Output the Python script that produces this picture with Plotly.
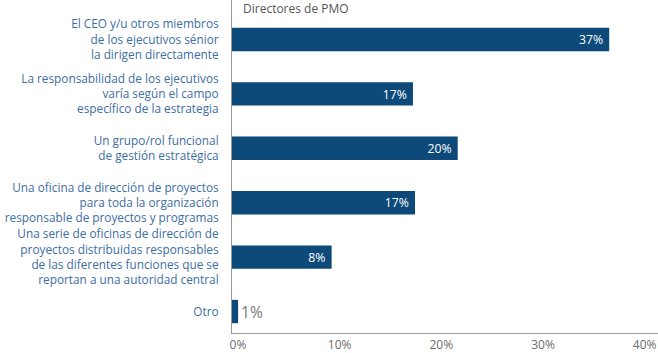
import plotly.graph_objects as go

categories = [
    "El CEO y/u otros miembros<br>de los ejecutivos sénior<br>la dirigen directamente",
    "La responsabilidad de los ejecutivos<br>varía según el campo<br>específico de la estrategia",
    "Un grupo/rol funcional<br>de gestión estratégica",
    "Una oficina de dirección de proyectos<br>para toda la organización<br>responsable de proyectos y programas",
    "Una serie de oficinas de dirección de<br>proyectos distribuidas responsables<br>de las diferentes funciones que se<br>reportan a una autoridad central",
    "Otro",
]
# bar lengths as drawn in the picture (percent)
values = [37.1, 17.8, 22.2, 18.0, 9.8, 0.6]
value_labels = ["37%", "17%", "20%", "17%", "8%", "1%"]
tick_vals = [0, 10, 20, 30, 40]
tick_text = ["0%", "10%", "20%", "30%", "40%"]
series_name = "Directores de PMO"

FONT = "Open Sans"
BAR = "#0d4a7a"
LABEL_BLUE = "#3d6ea3"
GREY = "#6d6d6d"

positions = ["inside"] * 5 + ["outside"]
texts = [t + "\u00a0" if p == "inside" else t for t, p in zip(value_labels, positions)]

fig = go.Figure(go.Bar(
    x=values,
    y=list(range(len(categories))),
    orientation="h",
    marker=dict(color=BAR, line=dict(width=0)),
    width=0.43,
    text=texts,
    textposition=positions,
    insidetextanchor="end",
    insidetextfont=dict(family=FONT, size=15.5, color="white"),
    outsidetextfont=dict(family=FONT, size=15.5, color="#777777"),
    cliponaxis=False,
    name=series_name,
))

fig.update_layout(
    width=658, height=353,
    margin=dict(l=232, r=0, t=0, b=20),
    plot_bgcolor="white", paper_bgcolor="white",
    showlegend=False,
    font=dict(family=FONT),
    xaxis=dict(
        range=[0, 41.9],
        tickvals=tick_vals, ticktext=tick_text,
        showgrid=False, zeroline=False,
        showline=True, linecolor="#9a9a9a", linewidth=1,
        ticks="", tickfont=dict(family=FONT, size=12, color=GREY),
        ticklabelshift=6, ticklabelstandoff=1,
        automargin=False,
    ),
    yaxis=dict(
        range=[5.395, -0.726],
        tickvals=list(range(len(categories))), ticktext=categories,
        showgrid=False, zeroline=False,
        showline=True, linecolor="#9a9a9a", linewidth=1,
        ticks="", tickfont=dict(family=FONT, size=11.8, color=LABEL_BLUE),
        ticklabelstandoff=10,
        automargin=False,
    ),
    annotations=[dict(
        text=series_name, x=0.02, y=1.0, xref="paper", yref="paper",
        xanchor="left", yanchor="top", yshift=2, showarrow=False,
        font=dict(family=FONT, size=12, color="#555555"),
    )],
)

fig.write_html("out.html")
